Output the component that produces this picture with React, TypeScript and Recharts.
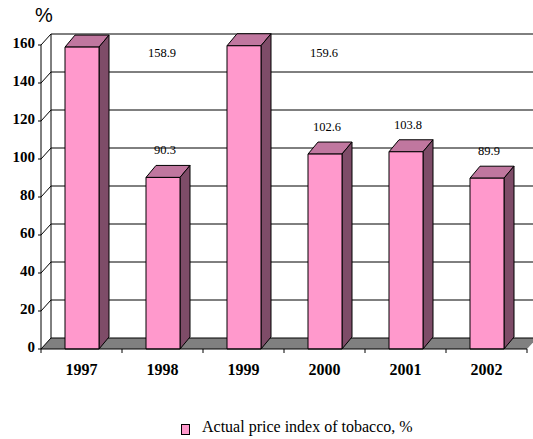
import { Bar, BarChart, CartesianGrid, LabelList, XAxis, YAxis } from "recharts";

const years = ["1997", "1998", "1999", "2000", "2001", "2002"];
const priceIndex = [158.9, 90.3, 159.6, 102.6, 103.8, 89.9];
const yTicks = [0, 20, 40, 60, 80, 100, 120, 140, 160];
const seriesName = "Actual price index of tobacco, %";

const data = years.map((year, i) => ({ year, value: priceIndex[i] }));

const W = 533;
const H = 439;
const PLOT_LEFT = 41;
const PLOT_RIGHT = 527;
const PLOT_TOP = 45;
const PLOT_BOTTOM = 349;
const BAND = (PLOT_RIGHT - PLOT_LEFT) / years.length;
// depth of the back wall and of the bars
const DX = 10;
const DY = 11;
const BAR_DX = 10;
const BAR_DY = 12;

const SERIF = "'Liberation Serif', 'Times New Roman', serif";

function Bar3D(props: any) {
  const { x, y, width, height } = props;
  if (!height || height <= 0) return null;
  const r = x + width;
  const b = y + height;
  return (
    <g stroke="#000" strokeWidth={1} strokeLinejoin="round">
      <polygon
        points={`${x},${y} ${x + BAR_DX},${y - BAR_DY} ${r + BAR_DX},${y - BAR_DY} ${r},${y}`}
        fill="#C0779F"
      />
      <polygon
        points={`${r},${y} ${r + BAR_DX},${y - BAR_DY} ${r + BAR_DX},${b - BAR_DY} ${r},${b}`}
        fill="#7E4C68"
      />
      <rect x={x} y={y} width={width} height={height} fill="#FF99CC" />
    </g>
  );
}

function WallLine(props: any) {
  const { x1, x2, y1, y, height } = props;
  const isFloor = Math.abs(y1 - (y + height)) < 0.5;
  const step = height / (yTicks.length - 1);
  if (isFloor) {
    return (
      <g key={props.key}>
        <polygon
          points={`${x1},${y1} ${x2},${y1} ${x2 + DX},${y1 - DY} ${x1 + DX},${y1 - DY}`}
          fill="#808080"
          stroke="none"
        />
        <line x1={x1 + DX} y1={y1 - DY} x2={x2 + DX} y2={y1 - DY} stroke="#000" />
        <line x1={x1} y1={y1} x2={x1 + DX} y2={y1 - DY} stroke="#000" />
      </g>
    );
  }
  return (
    <g key={props.key}>
      <line x1={x1 + DX} y1={y1 - DY} x2={x2 + DX} y2={y1 - DY} stroke="#000" />
      <line x1={x1} y1={y1} x2={x1 + DX} y2={y1 - DY} stroke="#000" />
      <line x1={x1 + DX} y1={y1 - DY} x2={x1 + DX} y2={y1 - DY + step} stroke="#000" />
    </g>
  );
}

function YearTick({ x, y, payload, index }: any) {
  const left = x - BAND / 2;
  return (
    <g>
      <line x1={left} y1={y} x2={left} y2={y + 4} stroke="#000" />
      {index === years.length - 1 && (
        <line x1={left + BAND} y1={y} x2={left + BAND} y2={y + 4} stroke="#000" />
      )}
      <text x={x} y={y + 26} textAnchor="middle" fontFamily={SERIF} fontWeight="bold" fontSize={16} fill="#000">
        {payload.value}
      </text>
    </g>
  );
}

function ValueTick({ x, y, payload }: any) {
  return (
    <text x={x} y={y + 3} textAnchor="end" fontFamily={SERIF} fontWeight="bold" fontSize={15} fill="#000">
      {payload.value}
    </text>
  );
}

function ValueLabel({ x, y, width, value }: any) {
  let cx = x + width / 2 + 2;
  let cy = y - 27;
  // labels of the tallest bars end up in the next column, near the top
  if (cy < PLOT_TOP + 8) {
    cx = x + width / 2 + BAND - 1;
    cy = PLOT_TOP + 8;
  }
  return (
    <text x={cx} y={cy + 4} textAnchor="middle" fontFamily={SERIF} fontSize={12.5} fill="#000">
      {value}
    </text>
  );
}

export default function App() {
  return (
    <div style={{ position: "fixed", left: 0, top: 0, width: W, height: H, background: "#fff" }}>
      <div
        style={{
          position: "absolute",
          left: 35,
          top: 3,
          fontFamily: "'Liberation Sans', Arial, sans-serif",
          fontSize: 20,
          lineHeight: "24px",
        }}
      >
        %
      </div>
      <BarChart
        width={W}
        height={H}
        data={data}
        margin={{ top: PLOT_TOP, right: W - PLOT_RIGHT, bottom: H - PLOT_BOTTOM - 30, left: PLOT_LEFT - 30 }}
        style={{ overflow: "visible" }}
      >
        <CartesianGrid vertical={false} horizontal={WallLine} />
        <XAxis
          dataKey="year"
          height={30}
          axisLine={{ stroke: "#000" }}
          tickLine={false}
          tickSize={0}
          tickMargin={0}
          tick={<YearTick />}
          interval={0}
        />
        <YAxis
          width={30}
          domain={[0, 160]}
          ticks={yTicks}
          interval={0}
          axisLine={{ stroke: "#000" }}
          tickLine={{ stroke: "#000" }}
          tickSize={3}
          tickMargin={3}
          tick={<ValueTick />}
        />
        <Bar dataKey="value" name={seriesName} barSize={34} shape={<Bar3D />} isAnimationActive={false}>
          <LabelList dataKey="value" content={<ValueLabel />} />
        </Bar>
      </BarChart>
      <div
        style={{
          position: "absolute",
          left: 181,
          top: 417,
          display: "flex",
          alignItems: "flex-start",
          fontFamily: SERIF,
          fontSize: 16,
          lineHeight: "20px",
          whiteSpace: "nowrap",
        }}
      >
        <span
          style={{
            display: "inline-block",
            width: 7,
            height: 9,
            marginTop: 7,
            background: "#FF99CC",
            border: "1px solid #000",
            marginRight: 12,
          }}
        />
        {seriesName}
      </div>
    </div>
  );
}
